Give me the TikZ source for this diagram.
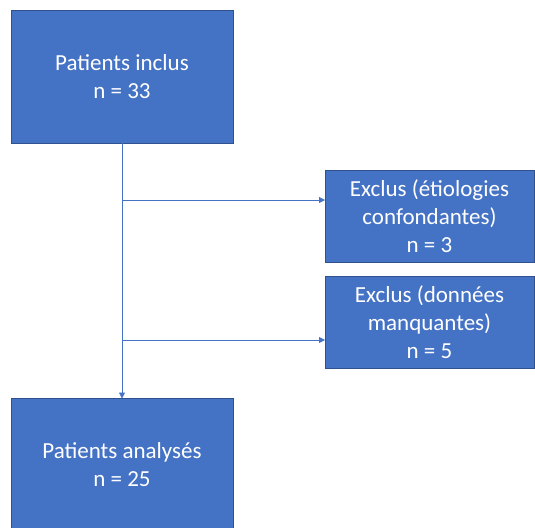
\documentclass[tikz,border=0pt]{standalone}
\usepackage{fontspec}
\setmainfont{Carlito}
\definecolor{OfficeBlue}{HTML}{4472C4}
\definecolor{OfficeBlueDark}{HTML}{2F528F}
\definecolor{OfficeWhite}{HTML}{FFFFFF}
\usetikzlibrary{arrows.meta, positioning, calc}
\tikzset{
    % Box styles with sharp corners
    component/.style={
        rectangle,
        draw=OfficeBlueDark,
        fill=OfficeBlue,
        line width=0.8pt,
        inner sep=0pt,
        outer sep=0pt,
        align=center,
        text=OfficeWhite,
        font=\fontsize{23}{28}\selectfont
    },
    component main/.style={
        component,
        minimum width=222pt,
        minimum height=133pt
    },
    component side/.style={
        component,
        minimum width=209pt,
        minimum height=92pt
    },
    arrow style/.style={
        -{Triangle[length=6pt, width=6pt]},
        line width=0.8pt,
        OfficeBlue
    }
}
\begin{document}
\begin{tikzpicture}[x=1pt, y=-1pt]
        \useasboundingbox (0,0) rectangle (535,527);
        % Boxes
        \node[component main] (inclus) at (122, 76.5) {
            Patients inclus\\
            n = 33
        };

        \node[component side] (etiologies) at (429.5, 216) {
            Exclus (étiologies\\
            confondantes)\\
            n = 3
        };

        \node[component side] (manquantes) at (429.5, 322.5) {
            Exclus (données\\
            manquantes)\\
            n = 5
        };

        \node[component main] (analyses) at (122, 465) {
            Patients analysés\\
            n = 25
        };

        % Branch points on the main line
        \coordinate (branch1) at (122, 200);
        \coordinate (branch2) at (122, 340);

        % Arrows
        \draw[arrow style] (inclus) -- (analyses);
        \draw[arrow style] (branch1) -- (branch1 -| etiologies.west);
        \draw[arrow style] (branch2) -- (branch2 -| manquantes.west);
    \end{tikzpicture}
\end{document}
